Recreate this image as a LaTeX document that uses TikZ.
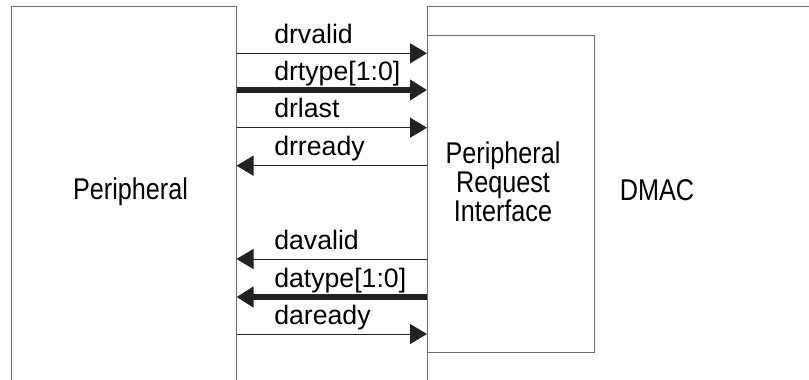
\documentclass[tikz,border=0pt]{standalone}
\usepackage{fontspec}
\setmainfont{Liberation Sans}
\newfontfamily\blockfont{Liberation Sans}[FakeStretch=0.84]
\usetikzlibrary{arrows.meta,fit}
\definecolor{wire}{HTML}{222222}
\definecolor{edge}{HTML}{6E6E6E}

\begin{document}
\begin{tikzpicture}[x=0.75pt,y=-0.75pt,
  block/.style={draw=edge,line width=0.75pt,inner sep=0pt},
  blocktext/.style={font=\blockfont\fontsize{22.5}{19.5}\selectfont,align=center,inner sep=0pt},
  sig/.style={font=\fontsize{20}{24}\selectfont,anchor=base west,inner sep=0pt},
  wirein/.style={draw=wire,line width=0.75pt,-{Triangle[length=12.75pt,width=15pt]}},
  bus/.style={wirein,line width=4pt}]
  \useasboundingbox (0,0) rectangle (809,379);
  \clip (0,0) rectangle (809,379);
  % blocks
  \node[block,fit={(11.7,6.7) (236,400)}] (periph) {};
  \node[block,fit={(427.5,6.7) (830,400)}] (dmac) {};
  \node[block,fill=white,fit={(427.5,35) (594,352.7)}] (pri) {};
  \node[blocktext,anchor=base] (periphtxt) at (130.5,199) {Peripheral};
  \node[blocktext] (pritxt) at (503,182) {Peripheral\\Request\\Interface};
  \node[blocktext,anchor=base] (dmactxt) at (657,200) {DMAC};
  % request side
  \draw[wirein] (periph.east |- 0,53.3) -- (pri.west |- 0,53.3);
  \draw[bus] (periph.east |- 0,90) -- (pri.west |- 0,90);
  \draw[wirein] (periph.east |- 0,127.7) -- (pri.west |- 0,127.7);
  \draw[wirein] (pri.west |- 0,165.7) -- (periph.east |- 0,165.7);
  \node[sig] (drvalid) at (274,43) {drvalid};
  \node[sig] (drtype) at (274,80) {drtype[1:0]};
  \node[sig] (drlast) at (274,117.7) {drlast};
  \node[sig] (drready) at (274,155.7) {drready};
  % acknowledge side
  \draw[wirein] (pri.west |- 0,259) -- (periph.east |- 0,259);
  \draw[bus] (pri.west |- 0,297) -- (periph.east |- 0,297);
  \draw[wirein] (periph.east |- 0,334) -- (pri.west |- 0,334);
  \node[sig] (davalid) at (274,249) {davalid};
  \node[sig] (datype) at (274,287) {datype[1:0]};
  \node[sig] (daready) at (274,324) {daready};
\end{tikzpicture}
\end{document}
